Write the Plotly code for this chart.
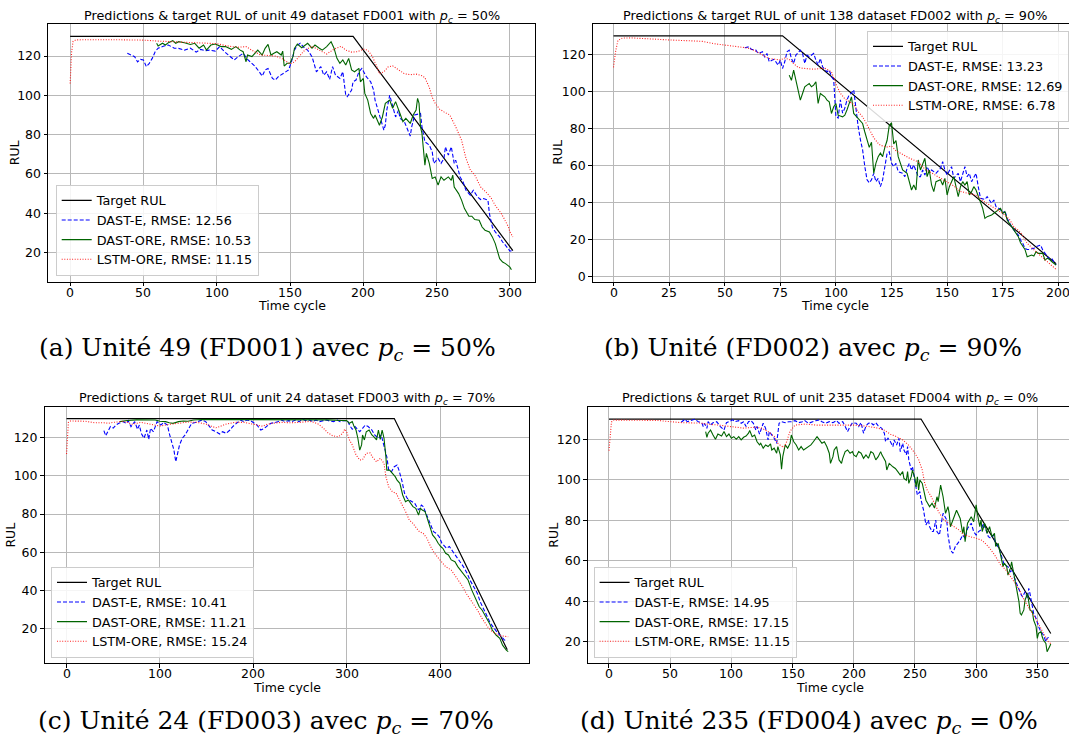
import plotly.graph_objects as go

# ---------------- data ----------------
# (a) unit 49, FD001, pc = 50%
A_TARGET_T = [0, 193, 302]
A_TARGET_V = [130, 130, 21]
A_RMSE = [12.56, 10.53, 11.15]
A_DAST_E = [(39,121.4),(41,120.8),(44,119.7),(46,117),(48,118.3),(50,118),(52,114.6),(54,116.3),(56,118.8),(58,122.2),(60,124),(64,125.1),(67,125.6),(71,124),(74,123.9),(78,123),(82,124),(86,122),(89,123.4),(92,122.7),(95,123),(99,122.5),(102,124.8),(106,121.7),(109,120),(112,118),(114,119.3),(118,121.4),(121,118.3),(124,116.3),(126,114.9),(129,112),(131,109.8),(133,112.9),(135,113.7),(138,108.6),(140,107.8),(142,109.5),(145,110.8),(147,112),(149,112.9),(151,117.1),(153,123),(155,125.6),(157,126.5),(160,124),(162,123),(165,119.7),(167,114.6),(168,112),(171,114.6),(173,110.3),(175,112),(177,108.1),(179,114.6),(181,110.3),(184,108.6),(186,112),(188,100.1),(189,99.3),(192,102.7),(193,106.9),(195,107.8),(197,112),(199,113.7),(201,110.3),(202,109.5),(205,106.9),(207,102.7),(208,97.6),(211,90),(212,88.3),(214,82.3),(215,84.8),(216,92.5),(218,100.1),(220,94.2),(222,89),(224,92.5),(225,88.3),(228,86.6),(229,84.8),(232,79.3),(233,84),(235,90),(239,90.8),(240,84),(242,76.4),(245,74.7),(247,71.3),(248,65.4),(251,67.9),(253,65.4),(255,67.9),(256,73.8),(258,69.6),(260,73.8),(262,65.4),(263,67),(266,58.5),(268,56),(270,51.7),(273,49.2),(275,51.7),(278,48.3),(280,47),(282,47.5),(285,46.7),(286,39.9),(288,33),(290,30.5),(293,28),(295,25.4),(297,23.7),(300,20.8),(302,21)]
A_DAST_ORE = [(59,126.5),(60,125.1),(63,126.5),(65,125.6),(67,126.8),(70,127.8),(72,126.5),(74,127.3),(78,126.8),(82,125.9),(85,126.5),(88,124),(91,125.6),(93,123),(96,125.6),(99,126.1),(103,124.8),(106,124.8),(110,123.4),(113,124.8),(116,123),(118,122.2),(120,117.1),(121,120.5),(124,119.7),(126,121.4),(128,123),(131,120.5),(133,123.9),(135,125.9),(137,120.5),(139,121.4),(141,122.2),(144,120.5),(145,122.5),(146,114.9),(148,116.3),(150,116.3),(152,119.7),(153,123.9),(155,126.1),(158,124.2),(160,125.6),(162,126.5),(165,124),(167,125.6),(170,124),(172,123),(175,124.8),(178,127.3),(180,124),(182,118.8),(184,116.3),(186,118),(188,115.4),(190,118.8),(192,112.9),(194,112),(197,113.7),(198,106.9),(200,108.6),(201,101),(203,97.6),(205,90.8),(207,88.3),(208,90),(211,84.8),(213,89),(215,95.9),(218,97.6),(220,93.4),(222,96.8),(225,90.8),(227,86.6),(229,88.3),(232,85.7),(234,90),(236,92.5),(237,98.5),(238,95.9),(239,84),(240,80.6),(242,64.5),(243,70.5),(245,65.4),(246,60.2),(247,57.7),(249,58.5),(251,54.3),(253,58.5),(255,56.8),(258,58.5),(260,56.8),(261,59.4),(262,53.4),(265,50),(267,46.7),(269,42.4),(272,38.5),(274,38.5),(276,36.8),(279,36.5),(281,33),(283,31.4),(286,30.5),(288,28),(290,24.6),(293,16.9),(295,15.2),(297,14.4),(300,12.6),(301,11.3)]
A_LSTM_ORE = [(0,106),(1,122),(2,127.5),(4,128.2),(10,128.3),(20,128.4),(30,128.3),(40,128.2),(50,128.1),(60,127.6),(70,127.3),(80,127),(90,126.6),(100,126.3),(105,125.5),(110,124.8),(115,124.5),(120,124.8),(125,122.5),(130,120.5),(135,120.3),(140,120),(145,118.5),(150,116),(153,117),(156,119.5),(160,123),(165,125),(170,123),(175,121),(180,123.5),(185,125),(188,123),(192,122),(196,122.2),(200,123.5),(203,123),(206,120),(209,115),(211,111),(214,112),(217,114.5),(220,115),(224,113),(228,111),(232,110.5),(236,110.8),(240,110),(242,109),(245,104),(247,99),(249,96),(252,93),(255,91.6),(259,90),(263,84),(267,77.2),(270,68),(273,62),(276,59.5),(280,53.4),(284,50.5),(287,48),(290,44),(294,40),(296,37.3),(299,33),(300,30.5),(302,28)]

# (b) unit 138, FD002, pc = 90%
B_TARGET_T = [0, 76, 199]
B_TARGET_V = [130, 130, 7]
B_RMSE = [13.23, 12.69, 6.78]
B_DAST_E = [(59,123.6),(61,124.1),(62,122.7),(64,122.3),(65,120.5),(67,121.4),(68,118.4),(69,120.5),(70,116),(72,117.3),(73,116),(74,114.2),(75,116.9),(76,112.4),(77,116),(78,121.4),(79,122.3),(80,117.8),(81,115.1),(82,119.6),(84,122.3),(85,120.5),(86,115.1),(87,119.6),(88,118.7),(90,120.5),(91,116.9),(92,114.2),(93,117.8),(94,113.3),(96,110.6),(97,111.5),(98,108),(99,106.3),(100,86.5),(101,85.6),(102,95.5),(103,88.3),(104,91),(105,95.5),(106,98.2),(107,99.1),(108,100.9),(109,90.1),(110,81.1),(111,74),(112,68.5),(113,59.4),(114,52.3),(115,50.7),(116,52.3),(117,55.8),(118,51.3),(119,53.1),(120,48.6),(121,52.3),(122,59.4),(123,66.5),(124,67.4),(125,61.3),(126,59.4),(127,61.2),(128,56.7),(130,55.8),(131,54),(132,58.5),(133,61.2),(134,57.6),(135,60.3),(137,54),(138,54),(139,57.6),(140,54.9),(141,59.4),(142,56.7),(143,57.6),(145,55.8),(147,58.5),(148,62.1),(149,57.6),(150,54.9),(151,57.6),(152,59.4),(153,53.1),(155,55.8),(156,51.3),(157,55.8),(158,59.4),(159,54),(160,55.8),(161,51.3),(162,54),(163,55.8),(164,48.6),(165,42.3),(167,41.7),(168,43.2),(170,39.6),(171,41.4),(172,37.8),(174,36.3),(175,34.2),(176,35.6),(177,31.5),(178,28.8),(179,27),(180,25.2),(182,22.5),(183,19.8),(184,18),(185,15.3),(186,14.7),(187,14.7),(189,15.3),(190,16.2),(191,16.5),(192,17.1),(193,14.4),(195,10.8),(196,9.4),(197,9.9),(198,8.1),(199,6.3)]
B_DAST_ORE = [(79,108.8),(80,106),(81,111.5),(82,106),(83,101.6),(84,95.3),(85,98.9),(86,102.5),(87,103.4),(88,104.3),(89,102.5),(90,103.4),(91,105.2),(92,93.5),(93,98.9),(95,97.1),(96,95.3),(97,94.4),(98,88.1),(99,91.7),(100,93.5),(101,87.2),(103,86.3),(104,87.2),(105,90.1),(106,93.5),(107,97.1),(108,88.1),(110,85.4),(111,83.6),(112,82.7),(113,78.1),(114,73.5),(115,69.8),(116,72.6),(117,55.8),(118,61.3),(119,64.8),(120,66.7),(121,64.8),(122,69.8),(123,73.5),(124,81.7),(125,83),(126,71.7),(127,73.5),(128,64.8),(129,61.3),(130,57.6),(132,55.8),(133,50.4),(134,46.8),(135,49.5),(136,46.8),(137,63),(138,57.6),(140,63.9),(141,54),(142,57.6),(143,49.5),(144,45.9),(145,51.3),(147,52.3),(148,49.5),(149,53.1),(150,44.1),(151,48.6),(152,51.3),(153,54),(155,43.2),(156,48.6),(157,51.3),(158,49.5),(159,51.3),(160,44.1),(161,45.9),(162,48.6),(163,46.8),(165,40.5),(166,36.9),(167,31.5),(168,32.4),(170,33.3),(171,34.2),(173,36),(174,36.9),(175,34.2),(176,35.1),(177,30.6),(178,28.8),(179,27),(181,23.4),(182,21.6),(183,18.3),(184,16.2),(185,14.7),(186,10.8),(188,11.7),(189,11.2),(190,13.5),(191,12.6),(193,12.6),(194,9),(195,9.9),(196,9.4),(197,8.1),(199,6.3)]
B_LSTM_ORE = [(0,113),(1,122),(2,127.5),(4,128.8),(8,128.9),(15,128.3),(25,127.8),(35,127.3),(40,127),(45,125.8),(50,125),(55,124.3),(60,123.5),(63,122.3),(65,121),(68,119),(70,117.8),(73,117.3),(75,117),(77,118),(79,117.3),(81,115),(83,113),(85,112.5),(90,112),(95,112.6),(97,111.5),(98,110.6),(100,104),(102,99),(104,96),(106,94.4),(108,93),(110,89),(112,86.3),(114,82),(115,79.5),(117,75),(119,72),(120,70.9),(123,70),(125,70.5),(127,68),(130,66),(133,64),(137,62),(140,58),(143,56),(146,54),(150,51.3),(153,49),(156,46),(160,45),(163,44),(166,41),(170,38),(175,34.2),(178,31),(180,27),(183,24),(186,18),(190,13.5),(194,9),(197,6),(199,4)]

# (c) unit 24, FD003, pc = 70%
C_TARGET_T = [0, 351, 472]
C_TARGET_V = [130, 130, 9]
C_RMSE = [10.41, 11.21, 15.24]
C_DAST_E = [(40,123.7),(42,121),(44,123),(47,125.8),(50,125),(53,126.6),(56,127.5),(60,128.4),(64,127.5),(66,128.9),(69,125.8),(73,128.4),(76,124.4),(78,126.6),(80,122.3),(83,119.7),(86,124),(88,119.1),(90,124.9),(93,123.1),(97,128.4),(101,126.6),(104,127.9),(108,126.6),(110,122.3),(113,117),(115,113.5),(117,107.4),(119,111.8),(121,116.2),(124,119.7),(127,121.4),(130,124),(134,127.5),(138,127.9),(141,128.4),(145,129.2),(149,128.4),(153,125.8),(156,124),(160,123.1),(164,121.9),(167,123.1),(171,122.3),(175,124),(178,125.8),(182,127.5),(186,129.2),(190,128.4),(193,129.2),(197,128.9),(201,127.5),(204,126.6),(208,124),(212,124.9),(216,126.6),(219,127.5),(223,127.9),(227,128.4),(230,129.2),(234,128.4),(238,128.9),(241,128.4),(245,129.2),(249,128.4),(253,129.6),(256,128.9),(260,129.2),(264,128.4),(267,129.2),(271,128.4),(275,128.9),(278,129.2),(282,128.7),(286,128.4),(290,129.2),(293,128.4),(297,128.9),(301,128.9),(303,126.6),(306,124.4),(309,125.8),(312,124),(314,123.1),(317,124.9),(320,126.6),(323,125.8),(327,124),(330,121.4),(334,119.7),(337,121.4),(340,115.3),(343,110),(345,103),(348,102.2),(351,104.8),(354,105.7),(356,103),(359,97.8),(362,90.9),(365,88.2),(367,87.4),(370,86.5),(373,85.6),(377,82.1),(380,84.7),(382,83.9),(385,80.4),(388,76.9),(391,73.4),(393,70.8),(396,69.9),(399,68.2),(402,64.7),(404,63.8),(407,62.1),(410,63),(414,60.3),(417,57.7),(421,55.1),(425,52.5),(429,49),(432,45.5),(436,42),(440,38.5),(443,34.1),(447,29.8),(451,26.3),(454,22.8),(458,20.2),(462,17.6),(466,15.8),(469,14.1),(472,13.7)]
C_DAST_ORE = [(57,128.4),(65,129),(75,129.3),(85,129.3),(95,129.2),(100,128.6),(106,128.4),(110,127.8),(114,127.5),(120,128.4),(125,128.7),(130,128.6),(136,129.2),(145,129.5),(160,129.5),(180,129.5),(200,129.5),(220,129.5),(240,129.5),(260,129.5),(280,129.3),(295,129),(300,128.9),(303,127.5),(306,128.4),(308,125.8),(310,124),(312,119.7),(314,113.5),(316,116.2),(317,121.4),(319,118.8),(321,123.1),(324,124),(327,121.4),(329,120.5),(332,118.8),(334,124),(336,119.1),(338,124),(340,119.7),(342,110),(343,103),(346,103),(349,101.3),(352,99.6),(354,97.8),(357,96.1),(360,90),(363,86.5),(366,87.4),(369,85.6),(371,83.9),(374,83),(377,79.5),(379,83),(381,82.1),(384,81.3),(387,76.9),(390,71.7),(392,69.1),(395,67.3),(398,64.7),(401,62.9),(403,62.1),(406,59.5),(409,58.6),(412,56),(416,55.1),(419,52.5),(423,49.9),(427,47.2),(430,45.5),(434,40.2),(438,35.9),(442,31.5),(445,29.8),(449,26.3),(453,22.8),(456,19.3),(460,16.7),(464,15),(467,11.4),(471,8.8),(473,8)]
C_LSTM_ORE = [(0,111.4),(1,124),(2,128),(4,128.7),(10,128.7),(20,128.6),(25,128.2),(30,127.8),(40,127.8),(45,127.5),(50,128),(60,128.5),(65,128),(70,127),(75,127.5),(80,128),(90,127),(100,126.1),(105,126.5),(110,127),(120,127.5),(130,128.2),(140,128),(150,127),(155,126),(160,125.2),(165,126),(170,127),(180,128),(190,128),(200,127),(205,126.5),(210,126),(215,127),(220,127.5),(230,128),(240,127.8),(250,128),(260,128.5),(265,128),(270,127),(275,125),(280,122.5),(285,121),(290,120.5),(293,121),(296,122.5),(298,124.5),(300,123),(303,118.8),(306,116.2),(310,111),(314,108.3),(317,108.5),(321,111.8),(325,112),(328,109.7),(332,107.4),(336,109.2),(340,106.6),(342,99.6),(345,94.3),(349,91.7),(353,90.9),(356,88.2),(360,84.7),(364,80.4),(367,76.9),(371,75.1),(375,72.5),(378,70.8),(382,69.9),(386,67.3),(390,62.9),(393,60.3),(397,57.7),(401,55.1),(406,52.5),(412,50.7),(417,47.2),(423,42.9),(428,38.5),(434,34.1),(440,29.8),(445,25.4),(451,21),(456,18.4),(462,16.7),(467,16.2),(473,15.8)]

# (d) unit 235, FD004, pc = 0%
D_TARGET_T = [0, 255, 361]
D_TARGET_V = [130, 130, 24]
D_RMSE = [14.95, 17.15, 11.15]
D_DAST_E = [(59,128.4),(62,129.9),(64,128.7),(67,129.2),(70,129.9),(73,128.7),(76,127.9),(77,126.3),(78,127.9),(80,125.4),(81,128.7),(83,127.1),(85,128.2),(88,128.7),(91,126.3),(94,124.6),(96,128.2),(98,128.7),(101,129.6),(103,128.7),(106,129.2),(108,127.9),(110,128.7),(112,126.3),(114,128.7),(116,129.2),(118,127.9),(120,124.6),(121,126.3),(123,122.6),(126,127.9),(128,125.4),(130,119.7),(131,123.8),(133,122.2),(135,120.5),(137,118),(138,123),(139,127.9),(141,128.7),(144,128.2),(147,128.7),(149,128.7),(152,129.2),(155,128.2),(158,128.7),(160,129.2),(163,127.9),(166,128.7),(169,129.2),(172,129.6),(174,128.7),(177,127.9),(180,128.7),(183,128.2),(186,129.2),(188,127.9),(191,128.7),(193,126.3),(195,123.8),(197,126.3),(199,128.2),(202,127.9),(204,126.3),(206,128.2),(208,123),(210,126.6),(212,127.9),(214,128.2),(216,127.1),(218,128.2),(220,126.6),(223,125.4),(225,123),(226,118.8),(228,120.5),(230,118.8),(232,116.4),(233,119.7),(235,117.2),(237,120.5),(238,113.9),(240,118),(241,114.7),(243,112.3),(244,116.4),(245,109.8),(247,104.8),(248,106.4),(250,99.8),(251,96.5),(252,92.4),(254,94.1),(255,90),(257,85.1),(258,80.1),(259,77.7),(261,80.1),(262,76.8),(264,74.4),(265,74.4),(266,76.8),(267,80.1),(268,74.4),(270,72.7),(272,80.1),(273,83.4),(276,80.1),(277,72.7),(279,65.3),(281,63.7),(283,67),(285,68.6),(287,70.2),(289,72.7),(291,71.1),(293,76),(296,78.5),(298,74.4),(300,72.7),(302,74.4),(304,75.2),(306,78.5),(308,75.2),(310,71.9),(312,71.1),(314,72.7),(316,68.6),(318,67),(320,63.7),(322,60.3),(323,57.9),(326,57.1),(328,54.6),(330,55.4),(331,52.1),(333,48.8),(335,45.5),(337,43),(338,42.2),(340,44.6),(342,41.4),(343,46.3),(344,43.8),(346,37.3),(347,34),(349,31.5),(351,27.4),(353,24.9),(355,23.3),(357,20),(358,21.6),(360,22.4)]
D_DAST_ORE = [(79,123.8),(80,121),(81,123),(83,124.6),(85,122.1),(87,120),(89,122.6),(92,121.6),(94,123.8),(96,121.3),(98,122.6),(100,120.5),(102,121.3),(104,120),(106,121.3),(108,119.7),(110,121),(112,121.6),(114,123),(115,124.3),(117,121.3),(119,122.1),(121,118.8),(123,117.2),(124,118),(126,115.6),(128,117.2),(130,116.4),(132,117.7),(133,114.7),(135,115.6),(137,113.1),(138,116.4),(140,112.3),(141,105.2),(142,111.4),(144,117.2),(146,115.6),(148,118),(149,122.1),(151,118.8),(153,117.2),(155,114.7),(157,116.4),(159,114.7),(161,115.6),(163,116.4),(165,117.2),(167,118.8),(170,121.3),(172,119.7),(174,118),(176,118.8),(178,116.4),(180,113.1),(181,108.1),(183,111.4),(184,114.7),(186,116.4),(187,112.3),(188,109.8),(190,108.1),(191,110.6),(193,113.9),(195,114.7),(197,113.1),(199,113.9),(200,112.3),(202,111.4),(204,113.9),(206,113.1),(208,110.6),(210,112.3),(212,110.6),(214,113.9),(216,113.1),(218,109.8),(220,111.4),(222,113.9),(223,112.3),(225,109.8),(226,109),(227,104.8),(229,108.1),(232,106.4),(234,105.6),(236,104),(238,102.3),(240,104),(241,100.7),(243,99.8),(244,104),(245,98.2),(247,101.5),(248,104.8),(250,100.7),(251,96.5),(252,101.5),(253,94.9),(254,99.8),(256,98.2),(258,93.2),(259,89.9),(262,86.7),(264,88.4),(266,86),(268,91.6),(269,89.2),(271,97.4),(273,91.6),(275,83.4),(277,86.7),(278,83.4),(279,76.8),(281,80.1),(283,82.6),(284,84.9),(287,80.9),(289,73.5),(290,76.8),(291,69.4),(293,78.5),(296,81.7),(298,79.3),(300,87.6),(301,83.4),(303,76.8),(304,80.1),(305,74.4),(307,78.5),(309,73.5),(311,76.8),(313,71.9),(315,73.5),(316,67),(318,68.6),(321,60.5),(322,57.1),(323,58.8),(325,57.1),(326,52.9),(328,56.2),(329,59.4),(330,56.2),(332,50.5),(333,47.2),(335,39.8),(336,34),(337,33.2),(339,35.7),(340,40.6),(342,43.8),(343,40.6),(344,35.7),(346,34.8),(347,30.7),(349,27.4),(350,21.6),(351,24.1),(353,24.9),(354,22.4),(355,20.8),(357,19.1),(358,15),(360,17.5),(361,18.8)]
D_LSTM_ORE = [(0,114.4),(1,124),(2,128.5),(4,129.5),(20,129.5),(40,129.3),(50,128.7),(60,128.2),(75,128),(80,127.5),(90,127),(100,126.3),(110,125.5),(120,126),(125,125.5),(130,123.8),(135,121.5),(138,118),(140,117),(143,116),(145,118.5),(148,124),(152,127),(160,127.5),(170,127),(180,127),(190,127),(200,127),(210,126.5),(220,125.5),(225,124.5),(230,122.5),(235,121.3),(240,119.7),(245,117),(250,113.1),(253,110),(256,104.8),(258,98.2),(260,94.9),(263,92),(266,88.4),(270,83.4),(274,80),(278,78.5),(282,77),(286,75.2),(290,72.7),(295,72),(300,71.1),(305,70),(310,67),(315,63),(320,57.9),(325,55),(330,50.5),(335,46),(340,39.8),(345,35),(350,30),(355,24.1),(359,20),(361,19)]

TITLES = [
    "Predictions &amp; target RUL of unit 49 dataset FD001 with <i>p<sub>c</sub></i> = 50%",
    "Predictions &amp; target RUL of unit 138 dataset FD002 with <i>p<sub>c</sub></i> = 90%",
    "Predictions &amp; target RUL of unit 24 dataset FD003 with <i>p<sub>c</sub></i> = 70%",
    "Predictions &amp; target RUL of unit 235 dataset FD004 with <i>p<sub>c</sub></i> = 0%",
]
CAPTIONS = [
    "(a) Unité 49 (FD001) avec <i>p<sub>c</sub></i> = 50%",
    "(b) Unité (FD002) avec <i>p<sub>c</sub></i> = 90%",
    "(c) Unité 24 (FD003) avec <i>p<sub>c</sub></i> = 70%",
    "(d) Unité 235 (FD004) avec <i>p<sub>c</sub></i> = 0%",
]
X_TICKS = [list(range(0, 301, 50)), list(range(0, 201, 25)), list(range(0, 401, 100)), list(range(0, 351, 50))]
Y_TICKS = [list(range(20, 121, 20)), list(range(0, 121, 20)), list(range(20, 121, 20)), list(range(20, 121, 20))]

# ---------------- layout geometry (pixels) ----------------
W, H = 1069, 749
FONT = "DejaVu Sans"
FS = 12.5

def fx(p):
    return p / W

def fy(p):
    return 1 - p / H

panels = [
    dict(target=(A_TARGET_T, A_TARGET_V), e=A_DAST_E, o=A_DAST_ORE, l=A_LSTM_ORE, rmse=A_RMSE,
         xdom=(48, 535), ydom=(24, 281.7), xr=(-15.1, 317.1), yr=(5.2, 136.3), mirror_y=True,
         title_x=291.5, title_y=16, xlab_x=291.5, xlab_y=305, ylab_x=14.4, cap_x=267, cap_y=349,
         leg=dict(x=fx(55.7), y=fy(275.5), xanchor="left", yanchor="bottom")),
    dict(target=(B_TARGET_T, B_TARGET_V), e=B_DAST_E, o=B_DAST_ORE, l=B_LSTM_ORE, rmse=B_RMSE,
         xdom=(592.7, 1069), ydom=(24, 281.7), xr=(-9.35, 204.8), yr=(-2.7, 136.4), mirror_y=False,
         title_x=835, title_y=16, xlab_x=835, xlab_y=305, ylab_x=558, cap_x=813, cap_y=349,
         leg=dict(x=1.0, y=fy(30.5), xanchor="right", yanchor="top")),
    dict(target=(C_TARGET_T, C_TARGET_V), e=C_DAST_E, o=C_DAST_ORE, l=C_LSTM_ORE, rmse=C_RMSE,
         xdom=(44.5, 529.3), ydom=(406.7, 663.3), xr=(-23.6, 495.6), yr=(1.9, 136.2), mirror_y=True,
         title_x=287, title_y=398, xlab_x=287, xlab_y=687, ylab_x=9.6, cap_x=266, cap_y=722,
         leg=dict(x=fx(51), y=fy(657.5), xanchor="left", yanchor="bottom")),
    dict(target=(D_TARGET_T, D_TARGET_V), e=D_DAST_E, o=D_DAST_ORE, l=D_LSTM_ORE, rmse=D_RMSE,
         xdom=(587.7, 1069), ydom=(406.7, 663.3), xr=(-17.4, 375.9), yr=(9.3, 136.1), mirror_y=False,
         title_x=830, title_y=398, xlab_x=830, xlab_y=687, ylab_x=552.7, cap_x=809, cap_y=722,
         leg=dict(x=fx(593.6), y=fy(657.5), xanchor="left", yanchor="bottom")),
]

fig = go.Figure()
layout = dict(
    width=W, height=H, autosize=False,
    margin=dict(l=0, r=0, t=0, b=0, pad=0, autoexpand=False),
    paper_bgcolor="white", plot_bgcolor="white",
    showlegend=True,
    annotations=[],
)

for i, p in enumerate(panels):
    k = "" if i == 0 else str(i + 1)
    xa, ya = "x" + k, "y" + k
    legname = "legend" + k
    tt, tv = p["target"]
    fig.add_trace(go.Scatter(x=tt, y=tv, mode="lines", name="Target RUL",
                             line=dict(color="black", width=1.2), xaxis=xa, yaxis=ya, legend=legname))
    ex, ey = zip(*p["e"])
    fig.add_trace(go.Scatter(x=ex, y=ey, mode="lines", name=f"DAST-E, RMSE: {p['rmse'][0]:.2f}",
                             line=dict(color="#0000ff", width=1.1, dash="4px,2px"), xaxis=xa, yaxis=ya, legend=legname))
    ox, oy = zip(*p["o"])
    fig.add_trace(go.Scatter(x=ox, y=oy, mode="lines", name=f"DAST-ORE, RMSE: {p['rmse'][1]:.2f}",
                             line=dict(color="#006400", width=1.1), xaxis=xa, yaxis=ya, legend=legname))
    lx, ly = zip(*p["l"])
    fig.add_trace(go.Scatter(x=lx, y=ly, mode="lines", name=f"LSTM-ORE, RMSE: {p['rmse'][2]:.2f}",
                             line=dict(color="#ff2020", width=1.1, dash="1px,1.6px"), xaxis=xa, yaxis=ya, legend=legname))

    common = dict(showgrid=True, gridcolor="#b8b8b8", gridwidth=1, zeroline=False,
                  showline=True, linecolor="black", linewidth=1,
                  ticks="outside", tickcolor="black", tickwidth=1, ticklen=3.5,
                  ticklabeloverflow="allow",
                  tickfont=dict(family=FONT, size=FS, color="black"))
    layout["xaxis" + k] = dict(common, domain=[fx(p["xdom"][0]), min(1.0, fx(p["xdom"][1]))],
                               range=list(p["xr"]), tickvals=X_TICKS[i], mirror=True,
                               anchor=ya, showticklabels=False)
    layout["yaxis" + k] = dict(common, domain=[fy(p["ydom"][1]), fy(p["ydom"][0])],
                               range=list(p["yr"]), tickvals=Y_TICKS[i], mirror=p["mirror_y"],
                               anchor=xa)
    layout[legname] = dict(p["leg"], bgcolor="rgba(255,255,255,0.85)", bordercolor="#cccccc",
                           borderwidth=1, font=dict(family=FONT, size=12.8, color="black"),
                           itemwidth=30, tracegroupgap=0)

    # x tick labels placed through the x axis scale, matplotlib-like offset below the spine
    for tv_ in X_TICKS[i]:
        layout["annotations"].append(
            dict(text=str(tv_), x=tv_, xref=xa, y=fy(p["ydom"][1] + 10.5), yref="paper",
                 xanchor="center", yanchor="middle", showarrow=False,
                 font=dict(family=FONT, size=FS, color="black")))

    layout["annotations"] += [
        dict(text=TITLES[i], x=fx(p["title_x"]), y=fy(p["title_y"]), xref="paper", yref="paper",
             xanchor="center", yanchor="middle", showarrow=False,
             font=dict(family=FONT, size=12.8, color="black")),
        dict(text="Time cycle", x=fx(p["xlab_x"]), y=fy(p["xlab_y"]), xref="paper", yref="paper",
             xanchor="center", yanchor="middle", showarrow=False,
             font=dict(family=FONT, size=FS, color="black")),
        dict(text="RUL", x=fx(p["ylab_x"]), y=fy((p["ydom"][0] + p["ydom"][1]) / 2), xref="paper", yref="paper",
             xanchor="center", yanchor="middle", showarrow=False, textangle=-90,
             font=dict(family=FONT, size=FS, color="black")),
        dict(text=CAPTIONS[i], x=fx(p["cap_x"]), y=fy(p["cap_y"]), xref="paper", yref="paper",
             xanchor="center", yanchor="middle", showarrow=False,
             font=dict(family="DejaVu Serif", size=25, color="black")),
    ]

fig.update_layout(**layout)
POST = ("document.documentElement.style.margin='0';document.body.style.margin='0';"
        "document.body.style.padding='0';document.body.style.overflow='hidden';"
        "document.documentElement.style.overflow='hidden';")
fig.write_html("out.html", config={"displayModeBar": False}, post_script=POST)
